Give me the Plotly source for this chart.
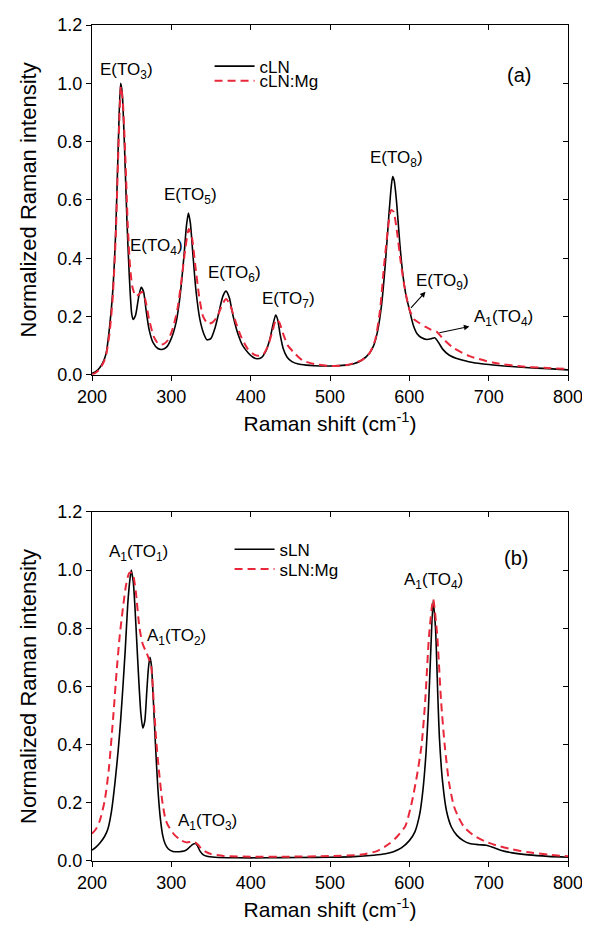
import plotly.graph_objects as go

# ---------------- data ----------------
x_cln = [200, 205, 210, 215, 218, 222, 226, 230, 233, 236, 238, 241, 244, 247, 250, 252, 255, 259, 262, 265,
         268, 272, 277, 283, 288, 294, 300, 306, 311, 316, 319, 321.5, 324, 327, 331, 336, 341, 345, 350, 355,
         360, 365, 369, 373, 378, 384, 390, 397, 403, 408, 414, 419, 424, 428, 431.5, 434, 437, 441, 446, 452,
         460, 470, 480, 500, 520, 530, 540, 550, 555, 560, 565, 570, 574, 577, 579, 581, 584, 588, 592, 596,
         600, 605, 610, 615, 622, 628, 632, 637, 642, 650, 663, 680, 696, 720, 746, 775, 800]
y_cln = [0.005, 0.012, 0.025, 0.05, 0.076, 0.16, 0.28, 0.5, 0.78, 1.0, 0.97, 0.78, 0.53, 0.34, 0.21, 0.19, 0.205, 0.27, 0.30, 0.285,
         0.225, 0.155, 0.11, 0.09, 0.087, 0.095, 0.125, 0.18, 0.27, 0.41, 0.51, 0.555, 0.52, 0.42, 0.29, 0.19, 0.14, 0.12, 0.125, 0.16,
         0.215, 0.27, 0.287, 0.265, 0.2, 0.14, 0.1, 0.075, 0.06, 0.055, 0.06, 0.08, 0.12, 0.17, 0.205, 0.19, 0.14, 0.09, 0.06, 0.045,
         0.037, 0.033, 0.031, 0.03, 0.033, 0.038, 0.05, 0.075, 0.1, 0.15, 0.24, 0.39, 0.54, 0.64, 0.68, 0.665, 0.59, 0.45, 0.34, 0.27,
         0.225, 0.17, 0.14, 0.128, 0.121, 0.124, 0.127, 0.11, 0.088, 0.068, 0.053, 0.042, 0.036, 0.03, 0.025, 0.021, 0.017]

x_clnmg = [200, 205, 210, 215, 218, 222, 226, 230, 233, 236.5, 239, 242, 245, 248, 251, 255, 259, 263, 267, 272,
           278, 284, 290, 296, 302, 308, 313, 318, 322, 326, 330, 335, 340, 346, 352, 358, 364, 369, 374, 380,
           388, 396, 404, 410, 416, 422, 428, 432, 436, 441, 447, 455, 465, 480, 500, 520, 530, 540, 550, 557,
           563, 568, 573, 577, 580, 584, 589, 594, 600, 606, 613, 620, 627, 634, 642, 655, 676, 705, 740, 770, 800]
y_clnmg = [0.0, 0.008, 0.02, 0.045, 0.07, 0.14, 0.26, 0.48, 0.75, 0.99, 0.93, 0.75, 0.52, 0.37, 0.3, 0.27, 0.275, 0.285, 0.26, 0.19,
           0.13, 0.105, 0.105, 0.12, 0.16, 0.23, 0.33, 0.44, 0.5, 0.47, 0.38, 0.27, 0.2, 0.175, 0.18, 0.2, 0.24, 0.26, 0.24, 0.19,
           0.13, 0.09, 0.07, 0.065, 0.07, 0.1, 0.155, 0.19, 0.18, 0.14, 0.1, 0.075, 0.05, 0.037, 0.03, 0.033, 0.04, 0.05, 0.075, 0.12,
           0.22, 0.37, 0.5, 0.565, 0.56, 0.5, 0.39, 0.3, 0.225, 0.19, 0.177, 0.165, 0.155, 0.149, 0.125, 0.093, 0.064, 0.042, 0.029, 0.024, 0.02]

x_sln = [200, 205, 210, 216, 220, 224.5, 229, 233, 236, 239, 242, 245, 247.5, 249.5, 252, 254, 256.5, 259, 261.5, 264,
         266.5, 269, 271, 273, 275, 277, 280, 283, 286, 289, 292, 296, 302, 310, 316, 320, 324, 327, 330.5, 333,
         336, 340, 345, 355, 380, 420, 460, 500, 530, 555, 570, 580, 590, 600, 607, 613, 617, 621, 624, 627,
         630, 633, 636, 638, 642, 647, 653, 660, 668, 676, 688, 697, 705, 715, 730, 750, 775, 800]
y_sln = [0.037, 0.048, 0.062, 0.085, 0.11, 0.17, 0.27, 0.38, 0.48, 0.6, 0.73, 0.88, 0.96, 1.0, 0.96, 0.88, 0.75, 0.62, 0.51, 0.457,
         0.48, 0.58, 0.66, 0.70, 0.67, 0.57, 0.4, 0.25, 0.15, 0.09, 0.06, 0.042, 0.033, 0.032, 0.034, 0.04, 0.05, 0.057, 0.06, 0.052,
         0.035, 0.022, 0.016, 0.013, 0.011, 0.011, 0.012, 0.013, 0.015, 0.02, 0.025, 0.032, 0.045, 0.07, 0.1, 0.16, 0.24, 0.37, 0.52, 0.72,
         0.893, 0.8, 0.56, 0.42, 0.27, 0.17, 0.117, 0.088, 0.07, 0.06, 0.056, 0.054, 0.047, 0.037, 0.028, 0.021, 0.016, 0.013]

x_slnmg = [200, 205, 210, 216, 221, 226.6, 231, 235, 239, 243, 247, 251, 255, 259.9, 264, 268, 271, 274.5, 277.5, 280.7,
           284, 289, 293, 297, 304, 312, 319, 326, 330, 334, 338, 343, 350, 366, 400, 450, 500, 540, 560, 575,
           585, 595, 603, 610, 615.5, 620, 625, 630, 635, 640, 644.5, 650, 656, 662, 669, 680, 695, 709, 730, 750,
           775, 800]
y_slnmg = [0.094, 0.11, 0.14, 0.207, 0.31, 0.49, 0.65, 0.776, 0.87, 0.95, 0.99, 0.99, 0.93, 0.80, 0.745, 0.72, 0.70, 0.67, 0.56, 0.423,
           0.32, 0.197, 0.14, 0.117, 0.09, 0.071, 0.064, 0.066, 0.064, 0.055, 0.042, 0.032, 0.024, 0.017, 0.015, 0.015, 0.017, 0.022, 0.035, 0.06,
           0.085, 0.12, 0.2, 0.3, 0.4, 0.55, 0.78, 0.9, 0.78, 0.55, 0.4, 0.27, 0.19, 0.15, 0.117, 0.09, 0.068, 0.054, 0.04, 0.03,
           0.022, 0.016]

x_ticks = [200, 300, 400, 500, 600, 700, 800]
y_ticks = [0.0, 0.2, 0.4, 0.6, 0.8, 1.0, 1.2]

top_labels = [("E(TO<sub>3</sub>)", 243.7, 1.042), ("E(TO<sub>4</sub>)", 281.7, 0.437),
              ("E(TO<sub>5</sub>)", 324.7, 0.614), ("E(TO<sub>6</sub>)", 379.0, 0.346),
              ("E(TO<sub>7</sub>)", 448.2, 0.258), ("E(TO<sub>8</sub>)", 584.2, 0.742),
              ("E(TO<sub>9</sub>)", 642.2, 0.319), ("A<sub>1</sub>(TO<sub>4</sub>)", 718.3, 0.194)]
bot_labels = [("A<sub>1</sub>(TO<sub>1</sub>)", 258.0, 1.058), ("A<sub>1</sub>(TO<sub>2</sub>)", 306.6, 0.769),
              ("A<sub>1</sub>(TO<sub>3</sub>)", 346.0, 0.134), ("A<sub>1</sub>(TO<sub>4</sub>)", 630.0, 0.963)]
# arrows: (head x, head y, tail x, tail y)
top_arrows = [(620.4, 0.285, 600.4, 0.224), (675.7, 0.166, 636.0, 0.143)]

FONT = "Liberation Sans, Arial, sans-serif"
RED = "#e8283a"

fig = go.Figure()
fig.add_trace(go.Scatter(x=x_cln, y=y_cln, name="cLN", mode="lines", line=dict(color="black", width=1.6, shape="spline", smoothing=0.6),
                         xaxis="x", yaxis="y", legend="legend"))
fig.add_trace(go.Scatter(x=x_clnmg, y=y_clnmg, name="cLN:Mg", mode="lines", line=dict(color=RED, width=2, dash="8px,5px", shape="spline", smoothing=0.6),
                         xaxis="x", yaxis="y", legend="legend2"))
fig.add_trace(go.Scatter(x=x_sln, y=y_sln, name="sLN", mode="lines", line=dict(color="black", width=1.6, shape="spline", smoothing=0.6),
                         xaxis="x2", yaxis="y2", legend="legend3"))
fig.add_trace(go.Scatter(x=x_slnmg, y=y_slnmg, name="sLN:Mg", mode="lines", line=dict(color=RED, width=2, dash="8px,5px", shape="spline", smoothing=0.6),
                         xaxis="x2", yaxis="y2", legend="legend4"))
# empty traces to activate the mirror (inside-tick) axes
fig.add_trace(go.Scatter(x=[], y=[], xaxis="x3", yaxis="y3", showlegend=False, hoverinfo="skip"))
fig.add_trace(go.Scatter(x=[], y=[], xaxis="x4", yaxis="y4", showlegend=False, hoverinfo="skip"))

top_dom = [0.5816, 1.0]
bot_dom = [0.0, 0.4176]

def xax(anchor, ticks_out=True, labels=True, title=None, side="bottom", overlay=None):
    d = dict(range=[200, 800], tickvals=x_ticks, ticks="outside" if ticks_out else "inside", ticklen=5, tickwidth=1.2,
             tickcolor="black", showline=True, linecolor="black", linewidth=1.3, showgrid=False, zeroline=False,
             showticklabels=labels, tickfont=dict(family=FONT, size=18, color="black"), anchor=anchor, side=side,
             domain=[0, 1], ticklabeloverflow="allow")
    if title:
        d["title"] = dict(text=title, font=dict(family=FONT, size=21, color="black"), standoff=10)
    if overlay:
        d["overlaying"] = overlay
    return d

def yax(anchor, dom, ticks_out=True, labels=True, title=None, side="left", overlay=None):
    d = dict(range=[0, 1.2], tickvals=y_ticks, tickformat=".1f", ticks="outside" if ticks_out else "inside", ticklen=5,
             tickwidth=1.2, tickcolor="black", showline=True, linecolor="black", linewidth=1.3, showgrid=False,
             zeroline=False, showticklabels=labels, tickfont=dict(family=FONT, size=18, color="black"), anchor=anchor,
             side=side, domain=dom, ticklabeloverflow="allow")
    if title:
        d["title"] = dict(text=title, font=dict(family=FONT, size=22, color="black"), standoff=14)
    if overlay:
        d["overlaying"] = overlay
    return d

xt = "Raman shift (cm<sup>-1</sup>)"
yt = "Normalized Raman intensity"

# the page body has an 8px margin; size the figure so the plot areas land where the reference has them
fig.update_layout(
    width=582, height=919, margin=dict(l=84, r=17, t=7, b=66),
    paper_bgcolor="white", plot_bgcolor="white",
    font=dict(family=FONT, size=17, color="black"),
    xaxis=xax("y", title=xt),
    yaxis=yax("x", top_dom, title=yt),
    xaxis2=xax("y2", title=xt),
    yaxis2=yax("x2", bot_dom, title=yt),
    xaxis3=xax("y3", ticks_out=False, labels=False, side="top", overlay="x"),
    yaxis3=yax("x3", top_dom, ticks_out=False, labels=False, side="right", overlay="y"),
    xaxis4=xax("y4", ticks_out=False, labels=False, side="top", overlay="x2"),
    yaxis4=yax("x4", bot_dom, ticks_out=False, labels=False, side="right", overlay="y2"),
    showlegend=True,
)

leg_common = dict(xanchor="left", yanchor="middle", bgcolor="rgba(0,0,0,0)", borderwidth=0,
                  font=dict(family=FONT, size=17, color="black"), itemwidth=40, tracegroupgap=0)
fig.update_layout(
    legend=dict(x=0.247, y=0.9503, **leg_common),
    legend2=dict(x=0.247, y=0.9327, **leg_common),
    legend3=dict(x=0.289, y=0.3723, **leg_common),
    legend4=dict(x=0.289, y=0.3487, **leg_common),
)

for txt, x, y in top_labels:
    fig.add_annotation(text=txt, x=x, y=y, xref="x", yref="y", showarrow=False,
                       font=dict(family=FONT, size=17, color="black"))
for txt, x, y in bot_labels:
    fig.add_annotation(text=txt, x=x, y=y, xref="x2", yref="y2", showarrow=False,
                       font=dict(family=FONT, size=17, color="black"))
for hx, hy, tx, ty in top_arrows:
    fig.add_annotation(text="", x=hx, y=hy, ax=tx, ay=ty, xref="x", yref="y", axref="x", ayref="y",
                       showarrow=True, arrowhead=2, arrowsize=1, arrowwidth=1.1, arrowcolor="black", standoff=0)

fig.add_annotation(text="(a)", x=737.6, y=1.03, xref="x", yref="y", showarrow=False,
                   font=dict(family=FONT, size=20, color="black"))
fig.add_annotation(text="(b)", x=735.0, y=1.041, xref="x2", yref="y2", showarrow=False,
                   font=dict(family=FONT, size=20, color="black"))

fig.write_html("out.html")
